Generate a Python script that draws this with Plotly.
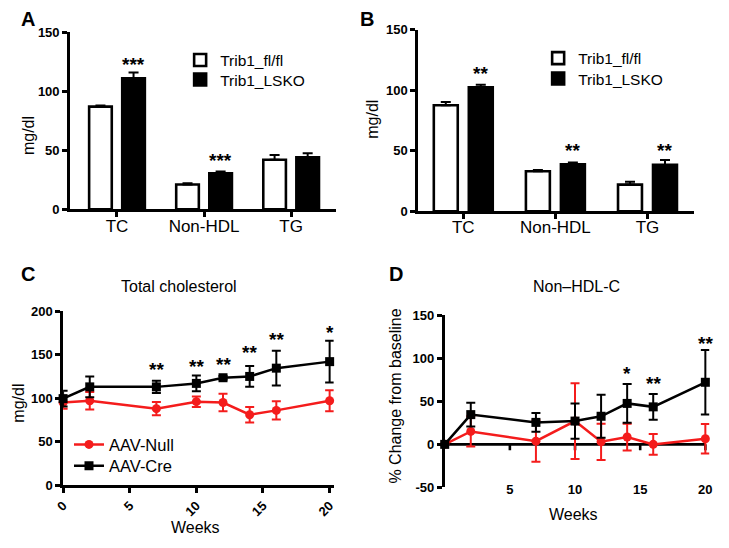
import plotly.graph_objects as go

FONT = "Liberation Sans, Arial, sans-serif"
RED = "#F41C1C"
BLACK = "#000000"

# ---------------- data ----------------
categories = ["TC", "Non-HDL", "TG"]

A_fl = [87, 21, 42]
A_fl_err = [1, 1, 4]
A_ko = [111, 30.5, 44]
A_ko_err = [5, 1.5, 3.5]
A_star_idx = [0, 1]
A_star_text = ["***", "***"]
A_star_y = [123, 41]

B_fl = [87.5, 33, 22]
B_fl_err = [2.7, 1, 2.4]
B_ko = [102.3, 38.8, 38.3]
B_ko_err = [2.2, 1.4, 4]
B_star_idx = [0, 1, 2]
B_star_text = ["**", "**", "**"]
B_star_y = [113.5, 50, 50]

bar_yticks = [0, 50, 100, 150]

weeks = [0, 2, 7, 10, 12, 14, 16, 20]

C_null = [95, 97, 88, 96, 95, 81, 86, 97]
C_null_err = [7, 10, 7.5, 6, 10, 9, 10.5, 12]
C_cre = [99.5, 113, 113, 117, 123.5, 125, 134.5, 142]
C_cre_err = [9, 12, 7, 9, 2, 12, 20, 24]
C_star_x = [7, 10, 12, 14, 16, 20]
C_star_text = ["**", "**", "**", "**", "**", "*"]
C_star_y = [133.5, 136.5, 139, 152, 167.5, 176]
C_xticks = [0, 5, 10, 15, 20]
C_yticks = [0, 50, 100, 150, 200]

D_null = [0, 15, 3.7, 27, 3, 8.5, 0, 6.5]
D_null_err = [0, 17.5, 24, 44, 21, 15.5, 12, 17]
D_cre = [0, 34.5, 25.5, 27, 32.6, 47.5, 43.5, 72]
D_cre_err = [0, 13.7, 10.8, 20.5, 25, 22.5, 15, 37.5]
D_star_x = [14, 16, 20]
D_star_text = ["*", "**", "**"]
D_star_y = [82.5, 70.5, 117]
D_xticks = [5, 10, 15, 20]
D_yticks = [-50, 0, 50, 100, 150]

legend_bar = ["Trib1_fl/fl", "Trib1_LSKO"]
legend_line = ["AAV-Null", "AAV-Cre"]

# ---------------- page geometry helpers ----------------
W, H = 729, 548


def PX(x):
    return x / W


def PY(y):
    return (H - y) / H


def bold_ticks(vals):
    return ["<b>%s</b>" % v for v in vals]


fig = go.Figure()
cat_x = list(range(len(categories)))
BAR_W = 0.26
FL_OFF = -0.32
KO_OFF = 0.06
KO_CENTER = KO_OFF + BAR_W / 2


def add_bars(xa, ya, fl, fl_err, ko, ko_err, legs):
    fig.add_trace(go.Bar(
        x=cat_x, y=fl, name=legend_bar[0], xaxis=xa, yaxis=ya, legend=legs[0],
        width=BAR_W, offset=FL_OFF,
        marker=dict(color="white", line=dict(color=BLACK, width=2.6)),
        error_y=dict(type="data", symmetric=False, array=fl_err, arrayminus=[0] * len(fl),
                     color=BLACK, thickness=2, width=5)))
    fig.add_trace(go.Bar(
        x=cat_x, y=ko, name=legend_bar[1], xaxis=xa, yaxis=ya, legend=legs[1],
        width=BAR_W, offset=KO_OFF,
        marker=dict(color=BLACK, line=dict(color=BLACK, width=2.6)),
        error_y=dict(type="data", symmetric=False, array=ko_err, arrayminus=[0] * len(ko),
                     color=BLACK, thickness=2, width=5)))


add_bars("x", "y", A_fl, A_fl_err, A_ko, A_ko_err, ["legend", "legend2"])
add_bars("x2", "y2", B_fl, B_fl_err, B_ko, B_ko_err, ["legend3", "legend4"])


def add_lines(xa, ya, null, null_err, cre, cre_err, legs, show):
    fig.add_trace(go.Scatter(
        x=weeks, y=null, name=legend_line[0], xaxis=xa, yaxis=ya, legend=legs[0],
        showlegend=show, mode="lines+markers", cliponaxis=False,
        line=dict(color=RED, width=2.5),
        marker=dict(symbol="circle", size=9, color=RED),
        error_y=dict(type="data", array=null_err, color=RED, thickness=2, width=4.5)))
    fig.add_trace(go.Scatter(
        x=weeks, y=cre, name=legend_line[1], xaxis=xa, yaxis=ya, legend=legs[1],
        showlegend=show, mode="lines+markers", cliponaxis=False,
        line=dict(color=BLACK, width=2.5),
        marker=dict(symbol="square", size=9, color=BLACK),
        error_y=dict(type="data", array=cre_err, color=BLACK, thickness=2, width=4.5)))


add_lines("x3", "y3", C_null, C_null_err, C_cre, C_cre_err, ["legend5", "legend6"], True)
add_lines("x4", "y4", D_null, D_null_err, D_cre, D_cre_err, ["legend5", "legend6"], False)

annotations = []
star_font = dict(family=FONT, size=19, color=BLACK, weight="bold")
for i, t, yv in zip(A_star_idx, A_star_text, A_star_y):
    annotations.append(dict(x=i + KO_CENTER, y=yv, xref="x", yref="y", text=t,
                            showarrow=False, font=star_font, yanchor="middle"))
for i, t, yv in zip(B_star_idx, B_star_text, B_star_y):
    annotations.append(dict(x=i + KO_CENTER, y=yv, xref="x2", yref="y2", text=t,
                            showarrow=False, font=star_font, yanchor="middle"))
for xv, t, yv in zip(C_star_x, C_star_text, C_star_y):
    annotations.append(dict(x=xv, y=yv, xref="x3", yref="y3", text=t, showarrow=False,
                            font=star_font, yanchor="middle"))
for xv, t, yv in zip(D_star_x, D_star_text, D_star_y):
    annotations.append(dict(x=xv, y=yv, xref="x4", yref="y4", text=t, showarrow=False,
                            font=star_font, yanchor="middle"))


def paper_text(text, x, y, size, bold=False, angle=0):
    annotations.append(dict(x=PX(x), y=PY(y), xref="paper", yref="paper", text=text,
                            showarrow=False, xanchor="center", yanchor="middle",
                            textangle=angle,
                            font=dict(family=FONT, size=size, color=BLACK,
                                      weight="bold" if bold else "normal")))


paper_text("A", 19, 12, 20, bold=True)
paper_text("B", 364, 12, 20, bold=True)
paper_text("C", 19, 274, 20, bold=True)
paper_text("D", 393, 274, 20, bold=True)
paper_text("mg/dl", 20, 132, 16, angle=-90)
paper_text("mg/dl", 370, 115, 16, angle=-90)
paper_text("mg/dl", 10, 407, 16, angle=-90)
paper_text("% Change from baseline", 393, 400, 16, angle=-90)
paper_text("Total cholesterol", 173, 287, 16)
paper_text("Non–HDL-C", 577, 287, 16)
paper_text("Weeks", 190, 535, 16)
paper_text("Weeks", 574, 522, 16)

# zero-line axis for panel D with its tick marks
shapes = [dict(type="line", xref="x4", yref="y4", x0=0, x1=D_xticks[-1], y0=0, y1=0,
               line=dict(color=BLACK, width=2.6), layer="below")]
for tv in D_xticks:
    shapes.append(dict(type="line", xref="x4", yref="y4", x0=tv, x1=tv,
                       ysizemode="pixel", yanchor=0, y0=0, y1=-6,
                       line=dict(color=BLACK, width=2.6), layer="below"))

axis_common = dict(showline=True, linecolor=BLACK, linewidth=2.6, ticks="outside",
                   ticklen=5, tickwidth=2.6, tickcolor=BLACK, showgrid=False,
                   zeroline=False)
num_font = dict(family=FONT, size=13, color=BLACK)
cat_font = dict(family=FONT, size=17, color=BLACK)


def leg(xpx, ypx, size):
    return dict(x=PX(xpx), y=PY(ypx), xanchor="left", yanchor="middle",
                font=dict(family=FONT, size=size, color=BLACK),
                bgcolor="rgba(0,0,0,0)", tracegroupgap=0)


fig.update_layout(
    width=W, height=H, margin=dict(l=0, r=0, t=0, b=0),
    paper_bgcolor="white", plot_bgcolor="white",
    barmode="overlay",
    font=dict(family=FONT, color=BLACK),
    showlegend=True,
    xaxis=dict(domain=[PX(62), PX(332)], range=[-0.54, 2.51], tickvals=cat_x,
               ticktext=categories, tickfont=cat_font, anchor="y", ticklabelstandoff=-6,
               **axis_common),
    yaxis=dict(domain=[PY(208), PY(26)], range=[0, 150], tickvals=bar_yticks,
               ticktext=bold_ticks(bar_yticks), tickfont=num_font, anchor="x", **axis_common),
    xaxis2=dict(domain=[PX(416), PX(696)], range=[-0.49, 2.5], tickvals=cat_x,
                ticktext=categories, tickfont=cat_font, anchor="y2", ticklabelstandoff=-6,
                **axis_common),
    yaxis2=dict(domain=[PY(210), PY(23.3)], range=[0, 150], tickvals=bar_yticks,
                ticktext=bold_ticks(bar_yticks), tickfont=num_font, anchor="x2",
                **axis_common),
    xaxis3=dict(domain=[PX(55), PX(55 + 271 * 20.3 / 20)], range=[0, 20.3],
                tickvals=C_xticks, ticktext=bold_ticks(C_xticks), tickangle=-45,
                tickfont=num_font, anchor="y3", **axis_common),
    yaxis3=dict(domain=[PY(491.7), PY(312.7)], range=[0, 200], tickvals=C_yticks,
                ticktext=bold_ticks(C_yticks), tickfont=num_font, anchor="x3",
                **axis_common),
    xaxis4=dict(domain=[PX(443), PX(443 + 265 * 20.3 / 20)], range=[0, 20.3],
                tickvals=D_xticks, ticktext=bold_ticks(D_xticks), tickfont=num_font,
                anchor="free", position=PY(486), showline=False, ticks="",
                showgrid=False, zeroline=False),
    yaxis4=dict(domain=[PY(494), PY(316.7)], range=[-50, 150], tickvals=D_yticks,
                ticktext=bold_ticks(D_yticks), tickfont=num_font, anchor="x4",
                **axis_common),
    legend=leg(174, 55, 15.5),
    legend2=leg(174, 75, 15.5),
    legend3=leg(538, 53, 15.5),
    legend4=leg(538, 74, 15.5),
    legend5=leg(61, 450, 16.5),
    legend6=leg(61, 472, 16.5),
    annotations=annotations,
    shapes=shapes,
)

fig.write_html("out.html", config={"displayModeBar": False},
               post_script="document.body.style.margin='0';document.body.style.overflow='hidden';")
